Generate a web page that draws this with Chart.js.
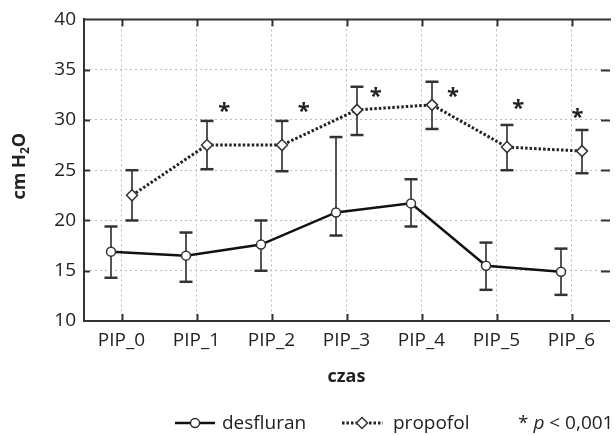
<!DOCTYPE html>
<html><head><meta charset="utf-8">
<script src="https://cdn.jsdelivr.net/npm/chart.js@4/dist/chart.umd.min.js"></script>
<style>html,body{margin:0;padding:0;background:#fff}#wrap{width:616px;height:436px}</style>
</head><body><div id="wrap"><canvas id="c" width="616" height="436"></canvas></div>
<script>
const categories = ['PIP_0','PIP_1','PIP_2','PIP_3','PIP_4','PIP_5','PIP_6'];
const yTicks = [10,15,20,25,30,35,40];
const desfluranMean = [16.9, 16.5, 17.6, 20.8, 21.7, 15.5, 14.9];
const desfluranLow  = [14.3, 13.9, 15.0, 18.5, 19.4, 13.1, 12.6];
const desfluranHigh = [19.4, 18.8, 20.0, 28.3, 24.1, 17.8, 17.2];
const propofolMean = [22.5, 27.5, 27.5, 31.0, 31.5, 27.3, 26.9];
const propofolLow  = [20.0, 25.1, 24.9, 28.5, 29.1, 25.0, 24.7];
const propofolHigh = [25.0, 29.9, 29.9, 33.3, 33.8, 29.5, 29.0];
const starX = [1.37, 2.43, 3.39, 4.42, 5.29, 6.08];
const starY = [31.4, 31.4, 32.9, 32.9, 31.7, 30.8];
const groupShift = 0.14;

const FONT = "'Open Sans', sans-serif";
Chart.defaults.font.family = FONT;
Chart.defaults.font.size = 19;
Chart.defaults.color = '#222';

const pts = (arr, s) => arr.map((v,i)=>({x:i+s, y:v}));

const deco = {
  id:'deco',
  beforeDatasetsDraw(chart){
    const {ctx, chartArea:a, scales:{x,y}} = chart;
    ctx.save();
    ctx.strokeStyle = '#333'; ctx.lineWidth = 2;
    ctx.beginPath(); ctx.moveTo(a.left-1, a.top); ctx.lineTo(a.right+2, a.top); ctx.stroke();
    ctx.lineWidth = 2;
    categories.forEach((c,i)=>{
      const px = Math.round(x.getPixelForValue(i))+0.5;
      ctx.beginPath(); ctx.moveTo(px, a.top); ctx.lineTo(px, a.top+7); ctx.stroke();
      ctx.beginPath(); ctx.moveTo(px, a.bottom); ctx.lineTo(px, a.bottom-7); ctx.stroke();
    });
    yTicks.slice(1,-1).forEach(v=>{
      const py = Math.round(y.getPixelForValue(v))+0.5;
      ctx.beginPath(); ctx.moveTo(a.left, py); ctx.lineTo(a.left+6, py); ctx.stroke();
      ctx.beginPath(); ctx.moveTo(a.right+1, py); ctx.lineTo(a.right-8, py); ctx.stroke();
    });
    // error bars
    chart.data.datasets.forEach(ds=>{
      ds.data.forEach((p,i)=>{
        const px = x.getPixelForValue(p.x);
        const yl = y.getPixelForValue(ds.errLow[i]);
        const yh = y.getPixelForValue(ds.errHigh[i]);
        ctx.strokeStyle = '#555'; ctx.lineWidth = 2;
        ctx.beginPath(); ctx.moveTo(px, yl); ctx.lineTo(px, yh); ctx.stroke();
        ctx.strokeStyle = '#333'; ctx.lineWidth = 2.5;
        ctx.beginPath(); ctx.moveTo(px-6.5, yl); ctx.lineTo(px+6.5, yl); ctx.stroke();
        ctx.beginPath(); ctx.moveTo(px-6.5, yh); ctx.lineTo(px+6.5, yh); ctx.stroke();
      });
    });
    ctx.restore();
  },
  afterDraw(chart){
    const {ctx, chartArea:a, scales:{x,y}} = chart;
    ctx.save();
    ctx.fillStyle = '#222';
    // stars
    ctx.font = 'bold 22px ' + FONT;
    ctx.textAlign = 'center'; ctx.textBaseline = 'alphabetic';
    starX.forEach((sx,i)=>{
      ctx.fillText('*', x.getPixelForValue(sx), y.getPixelForValue(starY[i]) + 12);
    });
    // x title
    ctx.font = 'bold 18px ' + FONT;
    ctx.textBaseline = 'middle';
    ctx.fillText('czas', (a.left+a.right)/2, 377);
    // y title with subscript
    ctx.save();
    ctx.translate(19, (a.top+a.bottom)/2 - 4);
    ctx.rotate(-Math.PI/2);
    const big = 'bold 18px ' + FONT, small = 'bold 12px ' + FONT;
    ctx.font = big; const w1 = ctx.measureText('cm H').width; const w3 = ctx.measureText('O').width;
    ctx.font = small; const w2 = ctx.measureText('2').width;
    let sx = -(w1+w2+w3)/2;
    ctx.textAlign = 'left'; ctx.textBaseline = 'alphabetic';
    ctx.font = big; ctx.fillText('cm H', sx, 6); sx += w1;
    ctx.font = small; ctx.fillText('2', sx, 10); sx += w2;
    ctx.font = big; ctx.fillText('O', sx, 6);
    ctx.restore();
    // legend
    const ly = 423;
    ctx.strokeStyle = '#111'; ctx.lineWidth = 2.5;
    ctx.beginPath(); ctx.moveTo(175, ly); ctx.lineTo(215, ly); ctx.stroke();
    ctx.fillStyle = '#fff'; ctx.strokeStyle = '#333'; ctx.lineWidth = 1.5;
    ctx.beginPath(); ctx.arc(195, ly, 4.5, 0, Math.PI*2); ctx.fill(); ctx.stroke();
    ctx.strokeStyle = '#222'; ctx.lineWidth = 3; ctx.setLineDash([2.5,2]);
    ctx.beginPath(); ctx.moveTo(342, ly); ctx.lineTo(383, ly); ctx.stroke();
    ctx.setLineDash([]);
    ctx.fillStyle = '#fff'; ctx.strokeStyle = '#333'; ctx.lineWidth = 1.5;
    ctx.beginPath(); ctx.moveTo(362, ly-5.5); ctx.lineTo(367.5, ly); ctx.lineTo(362, ly+5.5); ctx.lineTo(356.5, ly); ctx.closePath(); ctx.fill(); ctx.stroke();
    ctx.fillStyle = '#222';
    ctx.font = '19px ' + FONT; ctx.textAlign = 'left'; ctx.textBaseline = 'alphabetic';
    ctx.fillText('desfluran', 222, 429);
    ctx.fillText('propofol', 393, 429);
    let tx = 518;
    ctx.fillText('* ', tx, 429); tx += ctx.measureText('* ').width;
    ctx.font = 'italic 19px ' + FONT; ctx.fillText('p', tx, 429); tx += ctx.measureText('p').width;
    ctx.font = '19px ' + FONT; ctx.fillText(' < 0,001', tx, 429);
    ctx.restore();
  }
};

new Chart(document.getElementById('c'), {
  type:'line',
  data:{datasets:[
    {label:'desfluran', data:pts(desfluranMean,-groupShift), errLow:desfluranLow, errHigh:desfluranHigh,
     borderColor:'#111', borderWidth:2.5, pointStyle:'circle', pointRadius:4.5, pointBorderWidth:1.5,
     pointBackgroundColor:'#fff', pointBorderColor:'#333', tension:0},
    {label:'propofol', data:pts(propofolMean,groupShift), errLow:propofolLow, errHigh:propofolHigh,
     borderColor:'#222', borderWidth:3, borderDash:[2.5,2], pointStyle:'rectRot', pointRadius:5.5, pointBorderWidth:1.5,
     pointBackgroundColor:'#fff', pointBorderColor:'#333', tension:0}
  ]},
  options:{
    responsive:false, animation:false, devicePixelRatio:1,
    layout:{padding:{left:0, right:1, top:18, bottom:0}},
    plugins:{legend:{display:false}, tooltip:{enabled:false}},
    scales:{
      x:{type:'linear', min:-0.5, max:categories.length-0.5,
        afterBuildTicks:s=>{ s.ticks = categories.map((c,i)=>({value:i})); },
        afterFit:s=>{ s.height = 115; },
        ticks:{callback:v=>categories[v], padding:8, autoSkip:false, maxRotation:0, font:{size:19}, color:'#222'},
        grid:{color:'#bbb', lineWidth:1, drawTicks:false},
        border:{display:true, color:'#333', width:2, dash:[2,3]}
      },
      y:{min:10, max:40,
        afterBuildTicks:s=>{ s.ticks = yTicks.map(v=>({value:v})); },
        afterFit:s=>{ s.width = 84; },
        ticks:{padding:8, font:{size:19}, color:'#222'},
        grid:{color:'#bbb', lineWidth:1, drawTicks:false},
        border:{display:true, color:'#333', width:2, dash:[2,3]}
      }
    }
  },
  plugins:[deco]
});
</script></body></html>
